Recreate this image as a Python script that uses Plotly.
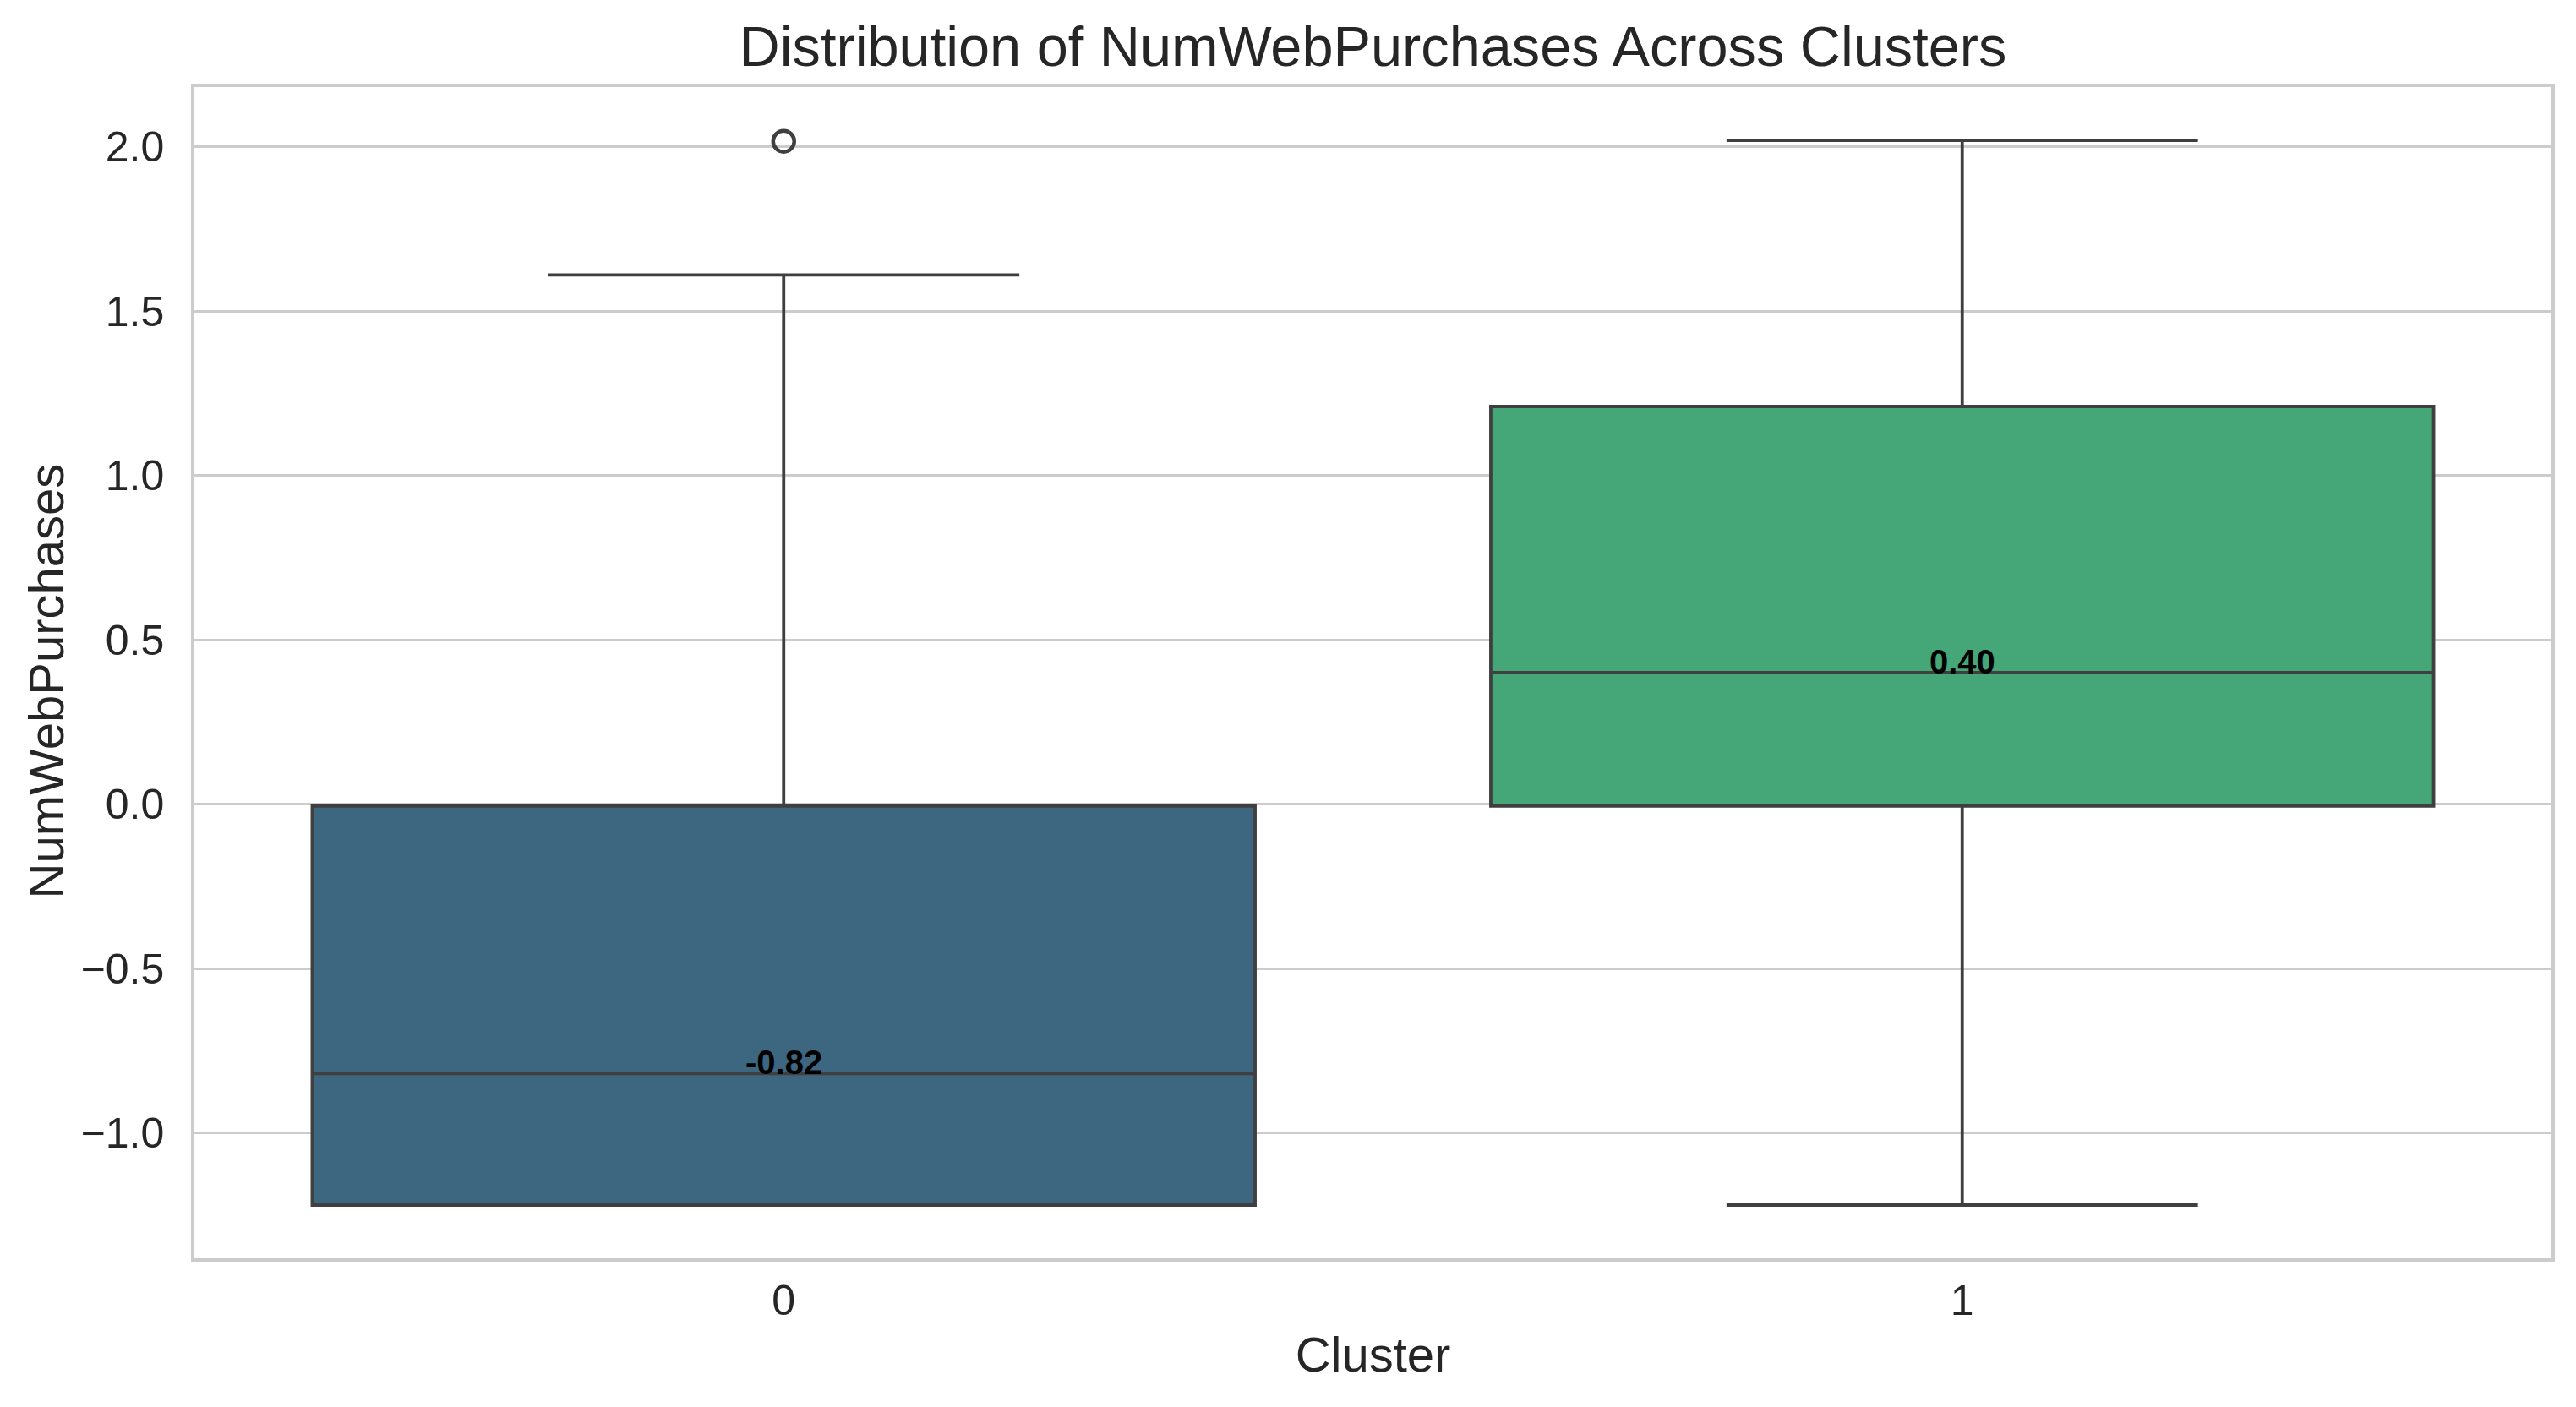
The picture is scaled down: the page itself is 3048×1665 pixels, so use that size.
import plotly.graph_objects as go

# ---- data ----
clusters = ["0", "1"]
lower_fence = [-1.22, -1.22]
q1_vals = [-1.22, -0.006]
medians = [-0.82, 0.40]
q3_vals = [-0.006, 1.21]
upper_fence = [1.61, 2.02]
outlier_x = ["0"]
outlier_y = [2.017]
box_colors = ["#3D6680", "#45A778"]
y_ticks = [-1.0, -0.5, 0.0, 0.5, 1.0, 1.5, 2.0]

LINE = "#3f3f3f"
TEXT = "#262626"
GRID = "#cccccc"
FONT = "Liberation Sans, Arial, sans-serif"

# page body margin offset (8px) compensation
OFF = 8
L, R, T, B = 230 - OFF, 29 + OFF, 103 - OFF, 176 + OFF
PW = 3048 - L - R
PH = 1665 - T - B

fig = go.Figure()
for i, c in enumerate(clusters):
    fig.add_trace(go.Box(
        x=[c], q1=[q1_vals[i]], median=[medians[i]], q3=[q3_vals[i]],
        lowerfence=[lower_fence[i]], upperfence=[upper_fence[i]],
        fillcolor=box_colors[i], line=dict(color=LINE, width=3.8),
        width=0.8, whiskerwidth=0.5, boxpoints=False, showlegend=False,
    ))

fig.add_trace(go.Scatter(
    x=outlier_x, y=outlier_y, mode="markers", showlegend=False,
    marker=dict(symbol="circle-open", size=25, color=LINE, line=dict(width=4.5, color=LINE)),
))

for i, c in enumerate(clusters):
    fig.add_annotation(
        x=c, y=medians[i], text=f"<b>{medians[i]:.2f}</b>",
        showarrow=False, yanchor="bottom", xanchor="center", yshift=-11,
        font=dict(family=FONT, size=40, color="black"),
    )

# y-axis title as rotated annotation
fig.add_annotation(
    xref="paper", yref="paper", x=(54 - 229.6) / PW, y=0.5 - 10 / PH,
    xanchor="center", yanchor="middle", textangle=-90, showarrow=False,
    text="NumWebPurchases", font=dict(family=FONT, size=58, color=TEXT),
)

fig.update_layout(
    width=3048, height=1665,
    margin=dict(l=L, r=R, t=T, b=B),
    paper_bgcolor="white", plot_bgcolor="white",
    font=dict(family=FONT, color=TEXT),
    title=dict(text="Distribution of NumWebPurchases Across Clusters",
               x=(L + PW / 2) / 3048, xanchor="center",
               y=1 - (55 - OFF) / 1665, yanchor="middle", yref="container",
               font=dict(size=66.7, color=TEXT, family=FONT)),
    xaxis=dict(type="category", categoryorder="array", categoryarray=clusters,
               range=[-0.5, 1.5], showgrid=False, zeroline=False,
               showline=True, linecolor=GRID, linewidth=3.5, mirror=True,
               ticks="", tickfont=dict(size=50, color=TEXT), ticklabelstandoff=3,
               title=dict(text="Cluster", font=dict(size=58, color=TEXT), standoff=18)),
    yaxis=dict(range=[-1.382, 2.182], tickvals=y_ticks, tickformat=".1f",
               showgrid=True, gridcolor=GRID, gridwidth=3, zeroline=False,
               showline=True, linecolor=GRID, linewidth=3.5, mirror=True,
               ticks="", tickfont=dict(size=50, color=TEXT), ticklabelstandoff=22),
)

fig.write_html("out.html")
